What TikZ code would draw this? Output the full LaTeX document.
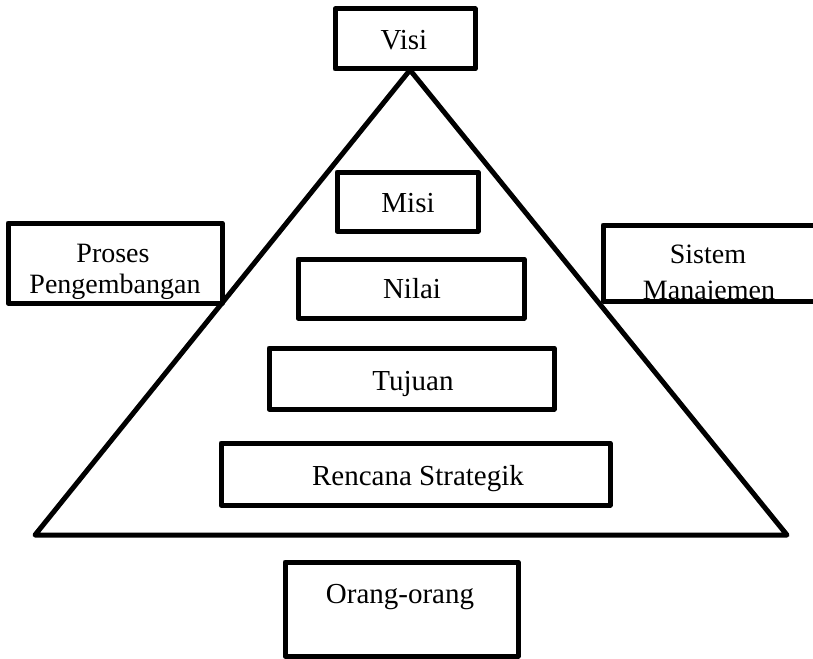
\documentclass[tikz,border=0pt]{standalone}
\usepackage{fontspec}
\setmainfont{Liberation Serif}
\begin{document}
\begin{tikzpicture}[x=1pt,y=-1pt, line width=5pt, line join=round,
  box/.style={draw, fill=white, inner sep=0pt},
  lbl/.style={anchor=base, inner sep=0pt, font=\fontsize{29}{33}\selectfont},
  slbl/.style={anchor=base, inner sep=0pt, font=\fontsize{28}{33}\selectfont}]
\useasboundingbox (0,0) rectangle (813,658);
% pyramid
\coordinate (apex) at (410,70);
\coordinate (bl) at (35,535);
\coordinate (br) at (787,535);
\draw (apex) -- (bl) -- (br) -- cycle;
% boxes
\node[box, minimum width=140pt, minimum height=60pt] (visi) at (405,39) {};
\node[lbl] (tvisi) at (404,50) {Visi};
\node[box, minimum width=141pt, minimum height=59pt] (misi) at (407.5,201.5) {};
\node[lbl] (tmisi) at (408,212) {Misi};
\node[box, minimum width=226pt, minimum height=59pt] (nilai) at (411,288.5) {};
\node[lbl] (tnilai) at (412,298) {Nilai};
\node[box, minimum width=285pt, minimum height=61pt] (tujuan) at (411.5,378.5) {};
\node[lbl] (ttujuan) at (413,390) {Tujuan};
\node[box, minimum width=389pt, minimum height=62pt] (renstra) at (415.5,474) {};
\node[lbl] (trenstra) at (418,485) {Rencana Strategik};
\node[box, minimum width=233pt, minimum height=94pt] (orang) at (401.5,609) {};
\node[lbl] (torang) at (400,603) {Orang-orang};
% side boxes
\node[box, minimum width=214pt, minimum height=80pt] (proses) at (115,263) {};
\node[slbl] (tproses1) at (113,262) {Proses};
\node[slbl] (tproses2) at (115,293) {Pengembangan};
\node[box, minimum width=212pt, minimum height=76pt] (sistem) at (709,263) {};
\begin{scope}
  \clip (605.5,227.5) rectangle (813,298.5);
  \node[slbl] (tsistem1) at (708,263) {Sistem};
  \node[slbl] (tsistem2) at (709,299) {Manajemen};
\end{scope}
\end{tikzpicture}
\end{document}
